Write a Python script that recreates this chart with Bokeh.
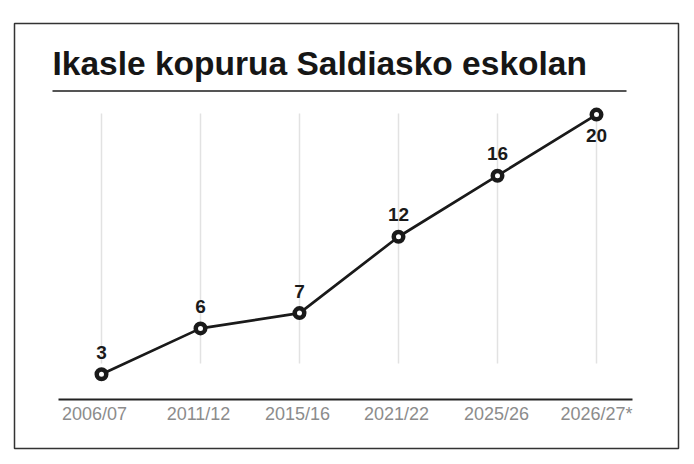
from bokeh.plotting import figure
from bokeh.models import Range1d, Label, ColumnDataSource
from bokeh.core.properties import value
from bokeh.embed import file_html
from bokeh.resources import INLINE

# ---- data ----
title_text = "Ikasle kopurua Saldiasko eskolan"
school_years = ["2006/07", "2011/12", "2015/16", "2021/22", "2025/26", "2026/27*"]
students = [3, 6, 7, 12, 16, 20]

# ---- layout / style constants (pixels on the page) ----
W, H = 694, 464
FRAME_L, FRAME_R, FRAME_T, FRAME_B = 14, 678, 23, 448
X_FIRST, X_STEP = 101, 99          # pixel of first category, spacing
Y_ZERO, Y_UNIT = 419.5, 15.27      # pixel of value 0, pixels per student
AXIS_L, AXIS_R, AXIS_Y = 58, 632, 399
TITLE_X, TITLE_BASE = 52, 63
RULE_L, RULE_R, RULE_Y = 52, 626, 90.5
GRID_T, GRID_B = 113, 363
LABEL_ABOVE, LABEL_BELOW = -22, 21
TICK_DX = [-7, -2, -2, -2, -1, 0]
INK = "#1a1a1a"
FONT = "Liberation Sans"


def dx(px):
    return (px - X_FIRST) / X_STEP


def dy(py):
    return (Y_ZERO - py) / Y_UNIT


n = len(school_years)
xs = list(range(n))
offsets = [LABEL_BELOW if i == n - 1 else LABEL_ABOVE for i in xs]

src = ColumnDataSource(dict(
    x=xs, y=students, txt=[str(v) for v in students], yoff=offsets,
    glo=[dy(GRID_B)] * n, ghi=[dy(GRID_T)] * n,
    ty=[dy(AXIS_Y)] * n, tick=school_years, tdx=TICK_DX,
))

p = figure(
    width=W, height=H, output_backend="svg", toolbar_location=None,
    x_range=Range1d(dx(FRAME_L), dx(FRAME_R)),
    y_range=Range1d(dy(FRAME_B), dy(FRAME_T)),
    x_axis_location=None, y_axis_location=None,
    min_border_left=FRAME_L, min_border_right=W - FRAME_R,
    min_border_top=FRAME_T, min_border_bottom=H - FRAME_B,
)
p.xgrid.visible = False
p.ygrid.visible = False
p.background_fill_color = "white"
p.border_fill_color = "white"
p.outline_line_color = "#333333"
p.outline_line_width = 1.5

# title and rule
p.add_layout(Label(x=dx(TITLE_X), y=dy(TITLE_BASE), text=title_text,
                   text_font=FONT, text_font_style="bold",
                   text_font_size="33.5px", text_color="#161616",
                   text_baseline="alphabetic", text_align="left"))
p.segment(x0=dx(RULE_L), y0=dy(RULE_Y), x1=dx(RULE_R), y1=dy(RULE_Y),
          line_color="#555555", line_width=2)

# vertical guide lines
p.segment(x0="x", y0="glo", x1="x", y1="ghi", source=src,
          line_color="#e2e2e2", line_width=1.5)

# category axis (baseline + labels)
p.segment(x0=dx(AXIS_L), y0=dy(AXIS_Y), x1=dx(AXIS_R), y1=dy(AXIS_Y),
          line_color="#222222", line_width=2)
p.text(x="x", y="ty", text="tick", source=src, x_offset="tdx", y_offset=4,
       text_font=value(FONT), text_font_size="18px", text_color="#8c8c8c",
       text_align="center", text_baseline="top")

# series
p.line("x", "y", source=src, line_color=INK, line_width=2.7)
p.scatter("x", "y", source=src, size=9.5, fill_color="white",
          line_color=INK, line_width=4.5)
p.text(x="x", y="y", text="txt", source=src, y_offset="yoff",
       text_font=value(FONT), text_font_style="bold",
       text_font_size="19px", text_color=INK,
       text_align="center", text_baseline="alphabetic")

open("out.html", "w").write(file_html(p, INLINE))
